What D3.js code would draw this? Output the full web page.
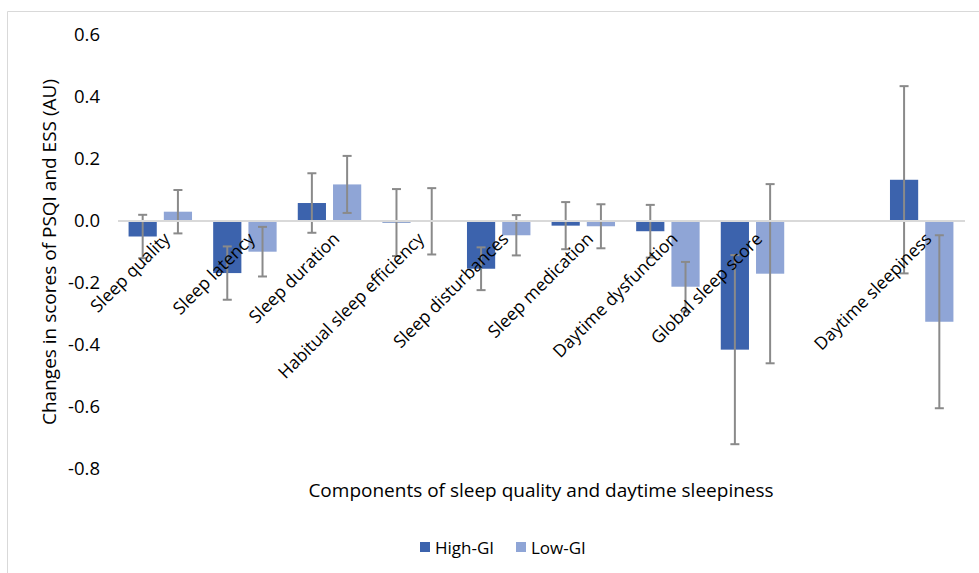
<!DOCTYPE html>
<html>
<head>
<meta charset="utf-8">
<script src="https://cdn.jsdelivr.net/npm/d3@7"></script>
<style>
  html, body { margin: 0; padding: 0; background: #fff; }
  svg { display: block; font-family: "Open Sans", "Noto Sans", sans-serif; }
</style>
</head>
<body>
<svg id="chart" width="979" height="573"></svg>
<script>
const categories = ["Sleep quality", "Sleep latency", "Sleep duration", "Habitual sleep efficiency",
  "Sleep disturbances", "Sleep medication", "Daytime dysfunction", "Global sleep score", "", "Daytime sleepiness"];
const seriesNames = ["High-GI", "Low-GI"];
const highGI    = [-0.05, -0.168, 0.058, -0.005, -0.154, -0.015, -0.033, -0.415, null, 0.133];
const highGIErr = [0.07, 0.086, 0.096, 0.108, 0.069, 0.076, 0.085, 0.305, null, 0.302];
const lowGI     = [0.03, -0.099, 0.118, -0.001, -0.046, -0.017, -0.212, -0.17, null, -0.325];
const lowGIErr  = [0.07, 0.08, 0.092, 0.107, 0.065, 0.071, 0.08, 0.289, null, 0.279];
const yTicks = [0.6, 0.4, 0.2, 0.0, -0.2, -0.4, -0.6, -0.8];
const yTitle = "Changes in scores of PSQI and ESS (AU)";
const xTitle = "Components of sleep quality and daytime sleepiness";
const colors = ["#3c63ad", "#8fa5d6"];

const svg = d3.select("#chart");

// outer border (top and left visible)
svg.append("line").attr("x1", 7.5).attr("x2", 979).attr("y1", 11.5).attr("y2", 11.5).attr("stroke", "#d9d9d9");
svg.append("line").attr("x1", 7.5).attr("x2", 7.5).attr("y1", 11.5).attr("y2", 573).attr("stroke", "#d9d9d9");

const x0 = d3.scaleBand().domain(categories).range([118, 964]).paddingInner(0.25).paddingOuter(0.125);
const x1 = d3.scaleBand().domain(seriesNames).range([0, x0.bandwidth()]).paddingInner(0.2);
const y = d3.scaleLinear().domain([-0.8, 0.6]).range([469, 35]);

// y axis labels (no line)
const yAxis = d3.axisLeft(y).tickValues(yTicks).tickFormat(d3.format(".1f")).tickSize(0).tickPadding(0);
const yg = svg.append("g").attr("transform", "translate(100,0)").call(yAxis);
yg.select(".domain").remove();
yg.selectAll("text").attr("font-size", 18.5).attr("fill", "#000").attr("font-family", "Open Sans, sans-serif")
  .text(d => d3.format(".1f")(d).replace("−", "-"));

const rows = categories.map((c, i) => ({
  cat: c,
  vals: [
    { s: "High-GI", v: highGI[i], e: highGIErr[i], c: colors[0] },
    { s: "Low-GI", v: lowGI[i], e: lowGIErr[i], c: colors[1] }
  ]
}));

const groups = svg.append("g").selectAll("g").data(rows).join("g")
  .attr("transform", d => `translate(${x0(d.cat)},0)`);

groups.selectAll("rect").data(d => d.vals.filter(v => v.v !== null)).join("rect")
  .attr("x", d => x1(d.s))
  .attr("width", x1.bandwidth())
  .attr("y", d => y(Math.max(0, d.v)))
  .attr("height", d => Math.max(1, Math.abs(y(d.v) - y(0))))
  .attr("fill", d => d.c);

// zero axis line
svg.append("line").attr("x1", 118).attr("x2", 965).attr("y1", y(0)).attr("y2", y(0))
  .attr("stroke", "#d9d9d9").attr("stroke-width", 2);

// error bars
const eb = groups.selectAll("g.err").data(d => d.vals.filter(v => v.v !== null)).join("g").attr("class", "err");
const cx = d => x1(d.s) + x1.bandwidth() / 2;
const ec = "#8a8a8a";
eb.append("line").attr("x1", cx).attr("x2", cx)
  .attr("y1", d => y(d.v + d.e)).attr("y2", d => y(d.v - d.e))
  .attr("stroke", ec).attr("stroke-width", 2);
eb.append("line").attr("x1", d => cx(d) - 4.5).attr("x2", d => cx(d) + 4.5)
  .attr("y1", d => y(d.v + d.e)).attr("y2", d => y(d.v + d.e))
  .attr("stroke", ec).attr("stroke-width", 2);
eb.append("line").attr("x1", d => cx(d) - 4.5).attr("x2", d => cx(d) + 4.5)
  .attr("y1", d => y(d.v - d.e)).attr("y2", d => y(d.v - d.e))
  .attr("stroke", ec).attr("stroke-width", 2);

// category labels rotated
const xAxis = d3.axisBottom(x0).tickSize(0).tickPadding(0);
const xg = svg.append("g").attr("transform", `translate(0,${y(0)})`).call(xAxis);
xg.select(".domain").remove();
xg.selectAll("text")
  .attr("font-size", 17.5).attr("fill", "#000").attr("font-family", "Open Sans, sans-serif")
  .attr("text-anchor", "end")
  .attr("dy", 0)
  .attr("transform", "translate(11,19) rotate(-45)");

// axis titles
svg.append("text").attr("transform", `translate(56,${(35 + 469) / 2}) rotate(-90)`)
  .attr("text-anchor", "middle").attr("font-size", 19).attr("fill", "#000").text(yTitle);
svg.append("text").attr("x", 541).attr("y", 497)
  .attr("text-anchor", "middle").attr("font-size", 19).attr("fill", "#000").text(xTitle);

// legend
const legend = svg.append("g");
const legX = [420, 516];
seriesNames.forEach((s, i) => {
  legend.append("rect").attr("x", legX[i]).attr("y", 542).attr("width", 10).attr("height", 10).attr("fill", colors[i]);
  legend.append("text").attr("x", legX[i] + 15).attr("y", 553.5).attr("font-size", 17).attr("fill", "#000").text(s);
});
</script>
</body>
</html>
